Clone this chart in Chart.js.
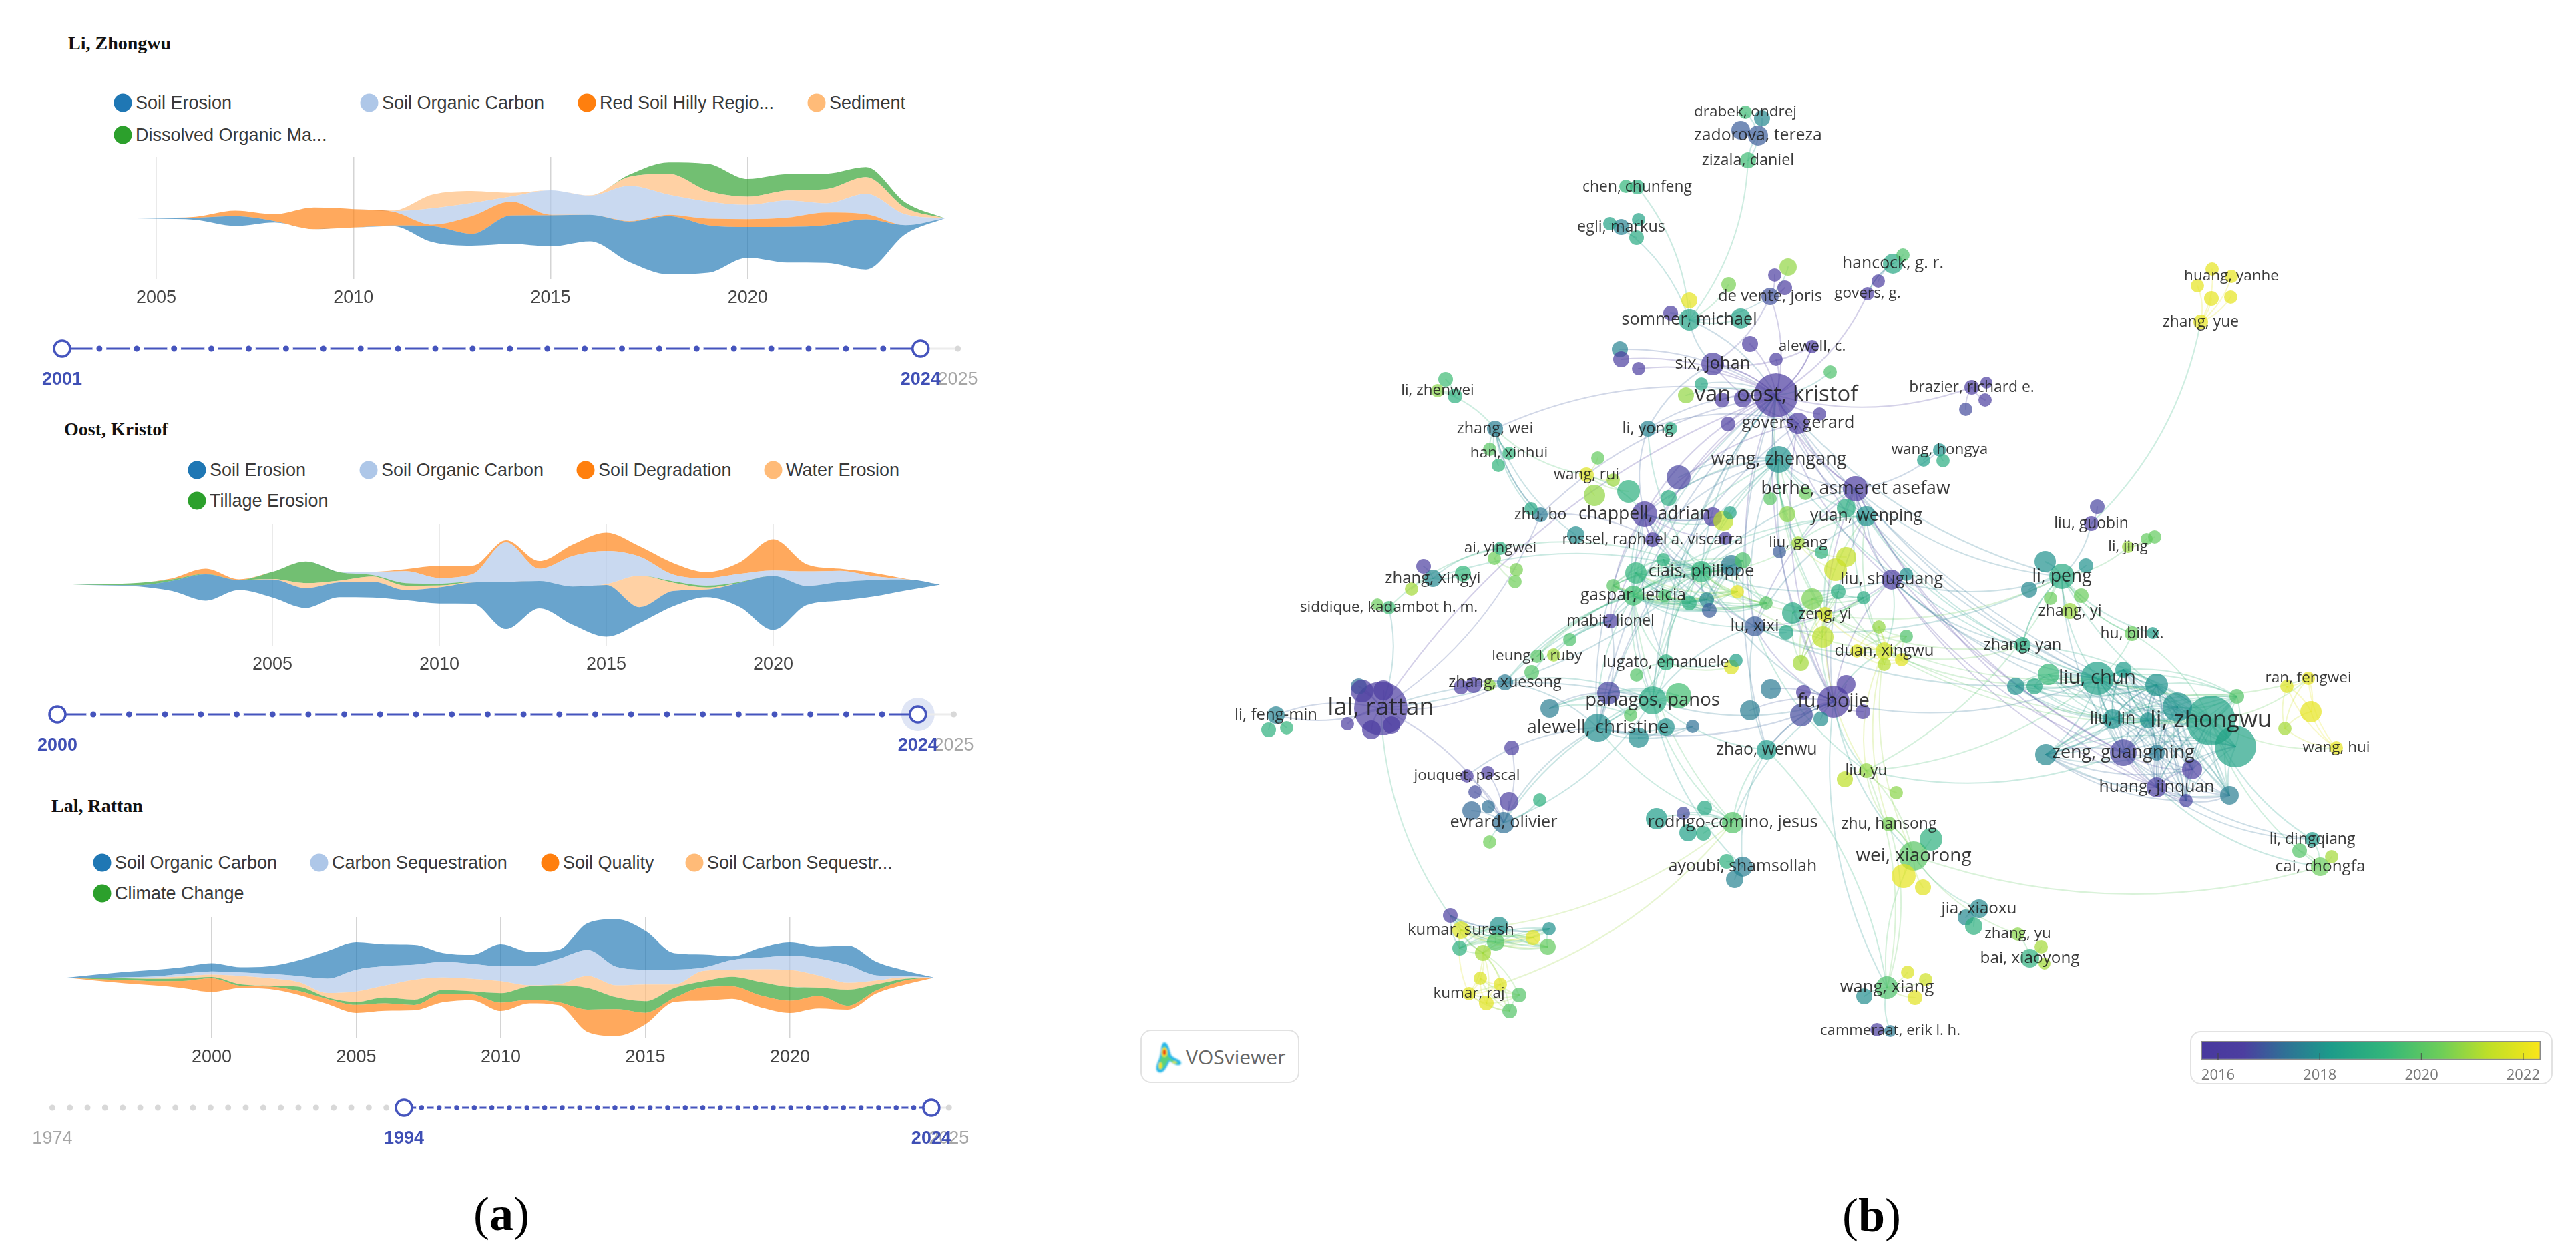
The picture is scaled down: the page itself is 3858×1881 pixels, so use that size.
<!DOCTYPE html>
<html><head><meta charset="utf-8">
<script src="https://cdn.jsdelivr.net/npm/chart.js@4/dist/chart.umd.js"></script>
<style>
html,body{margin:0;padding:0;background:#fff;overflow:hidden}
#root{position:relative;width:3858px;height:1881px;overflow:hidden;background:#fff;filter:blur(0.6px)}
canvas{position:absolute;display:block}
.t{position:absolute;white-space:nowrap;line-height:1}
.auth{font:bold 28px "Liberation Serif",serif;color:#111;transform:translateY(-50%)}
.leg{font:27px "Liberation Sans",sans-serif;color:#3a3a3a;transform:translateY(-50%)}
.dot{position:absolute;width:27px;height:27px;border-radius:50%;transform:translate(-50%,-50%)}
.pl{font:72px "Liberation Serif",serif;color:#000;transform:translate(-50%,-50%)}
.box{position:absolute;border:2px solid #e2e2e2;border-radius:16px;box-sizing:border-box;background:#fff}
</style></head><body><div id="root"></div>
<script>
/* ---------- (a) keyword streams: yearly thickness, bottom band first ---------- */
const streamColors={blue:'#1f77b4',pale:'#aec7e8',orange:'#ff7f0e',peach:'#ffbb78',green:'#2ca02c'};

const liName='Li, Zhongwu';
const liYears=[2004.5,2005,2006,2007,2008,2009,2010,2011,2012,2013,2014,2015,2016,2017,2018,2019,2020,2021,2022,2023,2024,2025];
const liSoilErosion=[0,0.2,0.8,3.7,0.5,0,0,0.2,6.0,4.5,10.8,11.8,10.0,15.3,22.0,18.0,11.6,13.5,14.3,19.0,3.4,0];
const liRedSoil=[0,0.1,0.4,2.1,2.6,8.2,7.0,5.3,0.6,6.7,5.2,0.2,0,0.2,0.5,2.5,3.0,3.5,4.8,2.0,0,0];
const liSoilCarbon=[0,0,0,0,0,0,0,0.2,6.2,5.0,2.0,9.3,7.3,13.4,7.7,6.5,5.4,6.5,3.5,7.7,4.1,0];
const liSediment=[0,0,0,0,0,0,0,0.2,5.2,4.6,1.4,0,0.1,3.4,7.8,4.0,3.1,3.8,5.4,6.3,2.5,0];
const liDissolved=[0,0,0,0,0,0,0,0,0,0,0,0,0,0.8,4.4,10.3,6.7,6.2,5.8,3.8,2.0,0];
const liLegend=['Soil Erosion','Soil Organic Carbon','Red Soil Hilly Regio...','Sediment','Dissolved Organic Ma...'];
const liTicks=[2005,2010,2015,2020];
const liWindow=[2001,2024];

const oostName='Oost, Kristof';
const oostYears=[1999,2000,2001,2002,2003,2004,2005,2006,2007,2008,2009,2010,2011,2012,2013,2014,2015,2016,2017,2018,2019,2020,2021,2022,2023,2024,2025];
const oostSoilErosion=[0,0.1,0.5,4.0,10.3,3.9,7.0,7.7,5.8,6.2,4.0,6.3,8.3,18.5,10.7,15,20.3,6.2,6.0,3.0,9.5,21.2,7.5,7.3,6.5,4.2,0];
const oostWaterErosion=[0,0,0,0,0,0,0.2,2.0,0.7,2.0,1.7,0.7,0.2,0,0,0,0.3,12.3,3.3,0.8,0,0,0,0,0,0,0];
const oostTillage=[0,0.4,0.9,0.6,0.2,0,2.8,8.5,3.3,0.6,1.0,0.7,0.1,0,0,0,0,0,0.5,0.7,0.3,0,0,0,0,0,0];
const oostSoilCarbon=[0,0,0,0,0,0,0,0,0,1.2,4.7,2.3,3.0,15.5,4.8,12,13.0,7.5,2.7,3.0,3.2,2.1,5.7,4.4,1.5,0.1,0];
const oostDegradation=[0,0,0,0.4,2.0,0.3,0,0,0,0,0.8,4.7,3.3,0.8,3.0,4.5,7.2,4.0,4.5,2.3,4.5,12.2,2.8,0.8,1.3,0.1,0];
const oostLegend=['Soil Erosion','Soil Organic Carbon','Soil Degradation','Water Erosion','Tillage Erosion'];
const oostTicks=[2005,2010,2015,2020];
const oostWindow=[2000,2024];

const lalName='Lal, Rattan';
const lalYears=[1995,1996,1997,1998,1999,2000,2001,2002,2003,2004,2005,2006,2007,2008,2009,2010,2011,2012,2013,2014,2015,2016,2017,2018,2019,2020,2021,2022,2023,2024,2025];
const lalSoilQuality=[0,0.5,1.1,1.4,2.4,4.6,0.7,0.8,1.3,1.7,2.7,2.5,1.8,2.8,2.0,2.8,1.2,1.0,7.5,9.0,3.9,1.4,4.5,4.2,4.0,4.1,4.2,1.3,1.0,1.4,0];
const lalClimate=[0,0.3,0.6,0.8,0.8,0.4,0.5,0.3,1.4,0.5,1.0,2.0,1.8,1.3,1.0,3.2,4.5,5.7,7.3,4.0,3.9,3.3,2.0,3.2,4.5,4.6,2.8,5.4,2.0,0.5,0];
const lalSoilCarbonSeq=[0,0,0.1,0.4,0.7,0.8,2.8,2.5,1.6,1.5,3.5,4.0,6.7,4.2,4.2,4.0,0.3,0.3,4.0,4.0,5.6,1.2,3.5,2.4,4.3,5.7,4.0,2.3,1.3,0.5,0];
const lalCarbonSeq=[0,0.1,0.2,0.4,0.9,1.1,1.2,1.5,2.0,4.8,7.3,6.5,5.0,5.2,5.0,5.0,6.4,8.5,8.7,6.2,5.0,5.0,1.1,3.2,3.9,4.8,5.7,6.0,1.7,0.4,0];
const lalSoilCarbon=[0,1.1,1.8,2.2,2.2,2.7,1.7,2.5,5.2,9.2,9.2,7.3,6.7,3.0,3.0,7.4,4.8,3.0,9.0,16,13,5.5,4.4,1.2,3.3,4.5,4.0,6.5,4.5,1.8,0];
const lalLegend=['Soil Organic Carbon','Carbon Sequestration','Soil Quality','Soil Carbon Sequestr...','Climate Change'];
const lalTicks=[2000,2005,2010,2015,2020];
const lalWindow=[1994,2024];

/* ---------- (b) co-authorship map: [x, y, size, mean year, label] ---------- */
const czechGroup=[[2633,203,15,2017,'zadorova, tereza'],[2614,168,10,2019.5,'drabek, ondrej'],[2639,177,12,2017.8],[2607,195,14,2017],[2618,240,12,2019.5,'zizala, daniel']];
const chenGroup=[[2452,280,11,2019,'chen, chunfeng'],[2435,279,10,2019.3]];
const egliGroup=[[2428,340,12,2017.7,'egli, markus'],[2411,335,10,2018.5],[2454,329,10,2018.5],[2451,356,11,2018.8]];
const sommerGroup=[[2530,479,16,2018.5,'sommer, michael'],[2530,450,12,2022],[2502,469,11,2016.3],[2607,477,15,2018.5],[2589,426,11,2020.5]];
const deventeGroup=[[2651,444,13,2016.8,'de vente, joris'],[2678,400,13,2020.8],[2658,412,10,2016.3],[2673,431,11,2016.3]];
const oostGroup=[[2660,592,33,2016.2,'van oost, kristof'],[2714,519,10,2016,'alewell, c.'],[2621,515,12,2016.2],[2660,538,10,2016.3],[2565,545,17,2016.5,'six, johan'],[2741,557,10,2019.8],[2548,575,10,2018.7],[2525,592,12,2020.8],[2579,599,11,2016.2],[2610,597,13,2016],[2725,620,10,2016.3],[2588,635,11,2016.3],[2693,634,16,2016.2,'govers, gerard'],[2426,523,12,2017.7],[2428,538,12,2016.5],[2454,552,10,2016.4]];
const yongGroup=[[2468,642,12,2017.7,'li, yong'],[2502,642,10,2018.8]];
const zhenweiGroup=[[2179,593,11,2019],[2165,568,11,2019.5],[2153,585,10,2020.7,'li, zhenwei']];
const westGroup=[[2239,642,12,2017.6,'zhang, wei'],[2260,679,10,2019.2,'han, xinhui'],[2231,673,10,2020],[2244,697,10,2019.2],[2307,771,11,2017.5,'zhu, bo'],[2293,762,10,2018.7],[2360,801,13,2017.9]];
const ruiGroup=[[2376,711,11,2021.8,'wang, rui'],[2393,686,10,2020.2],[2416,719,10,2020.9],[2388,742,16,2020.8],[2439,736,17,2019]];
const zhengangGroup=[[2664,688,20,2018,'wang, zhengang'],[2514,715,18,2016.6],[2499,746,12,2018.9],[2651,747,10,2020],[2704,739,10,2020.3],[2677,770,12,2020.7]];
const berheGroup=[[2779,732,19,2016.2,'berhe, asmeret asefaw'],[2765,761,14,2018.9],[2795,773,15,2018,'yuan, wenping']];
const chappellGroup=[[2463,770,19,2016.4,'chappell, adrian'],[2565,774,14,2016.4],[2581,780,15,2021.3],[2591,768,10,2018.5],[2475,808,11,2016.3,'rossel, raphael a. viscarra'],[2584,806,10,2016.5]];
const yingweiGroup=[[2238,836,10,2020.4],[2247,821,10,2019,'ai, yingwei'],[2271,853,10,2020.5],[2269,871,10,2020.4]];
const xingyiGroup=[[2146,866,13,2017.8,'zhang, xingyi'],[2132,848,11,2016.5],[2191,859,12,2019.3],[2114,882,10,2021]];
const siddiqueGroup=[[2080,910,10,2019.5,'siddique, kadambot h. m.'],[2063,905,9,2020.3]];
const gangGroup=[[2693,813,10,2021,'liu, gang'],[2665,826,10,2017],[2728,827,10,2019],[2765,834,15,2021.4],[2749,853,17,2021.5]];
const ciaisGroup=[[2548,856,16,2019.2,'ciais, philippe'],[2491,838,10,2019],[2450,858,16,2019.2],[2593,847,16,2017.5],[2610,839,12,2019.8],[2446,892,15,2019.6,'gaspar, leticia'],[2416,877,10,2020],[2493,892,10,2019.7],[2602,886,10,2022],[2556,898,11,2017.8],[2530,903,11,2018.9],[2560,914,11,2017],[2645,903,10,2020]];
const zengYiGroup=[[2733,920,11,2021.8,'zeng, yi'],[2714,897,16,2020.5],[2753,886,11,2018.9],[2791,895,10,2018.8],[2685,918,16,2018.7],[2730,954,16,2021.3],[2697,993,12,2021]];
const xixiGroup=[[2628,938,15,2017,'lu, xixi'],[2675,947,11,2018.5]];
const shuguangGroup=[[2833,868,15,2016.4,'liu, shuguang'],[2855,860,10,2018]];
const xingwuGroup=[[2822,975,13,2021.7,'duan, xingwu'],[2814,939,10,2020.8],[2855,953,10,2019.8],[2781,975,10,2021.9],[2822,995,10,2021.2],[2848,988,10,2021.9]];
const midWestGroup=[[2412,930,11,2016.5,'mabit, lionel'],[2351,958,10,2019.8],[2302,983,10,2020,'leung, l. ruby'],[2327,981,10,2021],[2294,1007,11,2019.9]];
const xuesongGroup=[[2254,1022,12,2017.5,'zhang, xuesong'],[2231,1026,9,2020.8],[2207,1026,12,2016.5],[2188,1029,11,2016.4]];
const lugatoGroup=[[2495,992,12,2019,'lugato, emanuele'],[2451,1011,10,2019.9],[2593,999,11,2021.8],[2600,989,10,2018.4]];
const lalGroup=[[2068,1061,40,2016.2,'lal, rattan'],[2035,1028,12,2017.3],[2040,1035,17,2016.4],[2072,1034,15,2016.2],[2054,1093,14,2016],[2084,1086,13,2016],[2018,1084,10,2016.4]];
const fengminGroup=[[1911,1071,13,2017.7,'li, feng-min'],[1900,1093,11,2019],[1927,1090,10,2019.2]];
const panagosGroup=[[2475,1049,21,2018.8,'panagos, panos'],[2514,1042,19,2019.6],[2409,1038,17,2016.6],[2442,1071,10,2020],[2321,1061,14,2017.6]];
const alewellGroup=[[2393,1090,21,2017.9,'alewell, christine'],[2454,1105,15,2017.9],[2495,1089,13,2018],[2535,1088,10,2017.3]];
const bojieGroup=[[2746,1051,24,2016.2,'fu, bojie'],[2621,1064,15,2017.6],[2652,1032,15,2017.5],[2765,1025,14,2016.2],[2701,1037,11,2016.4],[2698,1071,17,2016.7],[2727,1077,11,2017.9],[2790,1066,11,2016.3],[2646,1123,15,2018.2,'zhao, wenwu']];
const evrardGroup=[[2252,1232,16,2017.3,'evrard, olivier'],[2264,1120,11,2016.5],[2197,1162,10,2016.4,'jouquet, pascal'],[2228,1157,10,2016.4],[2209,1186,10,2016.7],[2260,1200,14,2016.5],[2306,1198,10,2019],[2204,1214,14,2017.2],[2229,1208,10,2017.3],[2231,1261,10,2020.4]];
const rodrigoGroup=[[2595,1232,16,2019.9,'rodrigo-comino, jesus'],[2481,1226,16,2018.3],[2521,1218,10,2016.7],[2553,1210,11,2018.7],[2528,1247,13,2018.4],[2551,1248,11,2018.8]];
const ayoubiGroup=[[2610,1298,15,2017.6,'ayoubi, shamsollah'],[2586,1290,11,2019],[2598,1317,13,2017.7]];
const sureshGroup=[[2188,1393,13,2021.8,'kumar, suresh'],[2172,1371,11,2016.5],[2245,1387,14,2018],[2240,1411,13,2019.9],[2296,1404,11,2021.9],[2320,1391,10,2018],[2318,1418,12,2020.2],[2186,1420,11,2019],[2221,1427,12,2021]];
const rajGroup=[[2200,1488,10,2021.9,'kumar, raj'],[2217,1465,10,2021.8],[2247,1474,10,2021.9],[2226,1502,11,2021.9],[2275,1490,11,2019.9],[2261,1514,11,2019.9],[2221,1427,12,2021]];
const hancockGroup=[[2835,395,15,2018.7,'hancock, g. r.'],[2850,382,10,2019.8],[2813,421,10,2016.3],[2797,440,10,2016.3,'govers, g.']];
const yanheGroup=[[3296,482,11,2022,'zhang, yue'],[3313,403,10,2022],[3342,414,10,2022,'huang, yanhe'],[3291,428,10,2022],[3312,447,11,2022],[3341,445,10,2022]];
const brazierGroup=[[2953,580,11,2016.4,'brazier, richard e.'],[2975,573,9,2016.3],[2973,599,10,2016.5],[2944,613,10,2016.7]];
const hongyaGroup=[[2905,674,10,2018,'wang, hongya'],[2881,689,10,2018.4],[2910,690,10,2018.9]];
const guobinGroup=[[3132,784,11,2016.3,'liu, guobin'],[3141,759,11,2016.6]];
const jingGroup=[[3187,819,9,2020.9,'li, jing'],[3215,807,9,2020.2],[3227,804,10,2020.2]];
const pengGroup=[[3088,863,19,2018.8,'li, peng'],[3063,841,16,2018],[3124,847,11,2018],[3039,883,12,2017.8],[3071,896,10,2020.3],[3117,892,11,2020.3],[3100,915,12,2020.9,'zhang, yi'],[3029,966,12,2018.9,'zhang, yan'],[3193,949,11,2020.3,'hu, bill x.'],[3224,948,9,2018.3]];
const chunGroup=[[3141,1016,25,2018.4,'liu, chun'],[3068,1010,16,2019.4],[3047,1028,12,2018.7],[3019,1028,13,2018],[3180,1003,12,2018.2],[3230,1026,17,2018],[3164,1077,15,2018,'liu, lin'],[3217,1079,12,2018]];
const zhongwuGroup=[[3311,1079,37,2018.5,'li, zhongwu'],[3261,1059,22,2018],[3348,1118,31,2018.5],[3350,1043,11,2019.9],[3180,1127,20,2016.6,'zeng, guangming'],[3064,1130,16,2017.8],[3230,1127,12,2017.5],[3283,1152,15,2016.5],[3230,1179,15,2016.5,'huang, jinquan'],[3274,1199,10,2016.6],[3339,1191,14,2017.6]];
const fengweiGroup=[[3461,1066,16,2022],[3425,1028,10,2021.8],[3457,1016,10,2022,'ran, fengwei'],[3422,1091,10,2021],[3499,1120,10,2022,'wang, hui']];
const chongfaGroup=[[3475,1298,14,2020.3,'cai, chongfa'],[3463,1257,11,2018.2,'li, dingqiang'],[3444,1274,11,2019.9],[3492,1283,10,2021]];
const yuGroup=[[2795,1154,11,2020.8,'liu, yu'],[2763,1167,12,2021.3],[2840,1187,10,2020.7]];
const xiaorongGroup=[[2866,1282,22,2020,'wei, xiaorong'],[2829,1234,11,2020.5,'zhu, hansong'],[2892,1257,17,2019],[2851,1312,18,2022],[2880,1329,12,2021.9]];
const xiaoxuGroup=[[2964,1361,14,2017.8,'jia, xiaoxu'],[2944,1374,12,2017.8],[2956,1387,13,2019]];
const xiaoyongGroup=[[3040,1435,14,2019,'bai, xiaoyong'],[3022,1399,10,2020.7,'zhang, yu'],[3057,1418,10,2021],[3062,1443,9,2021]];
const xiangGroup=[[2826,1479,17,2019.8,'wang, xiang'],[2792,1492,12,2017.9],[2857,1456,10,2021.8],[2884,1467,10,2021.6],[2868,1494,11,2021.9]];
const cammeraatGroup=[[2831,1544,9,2017.5,'cammeraat, erik l. h.'],[2811,1542,10,2016.5]];

const mapGroups=[czechGroup,chenGroup,egliGroup,sommerGroup,deventeGroup,oostGroup,yongGroup,zhenweiGroup,westGroup,ruiGroup,zhengangGroup,berheGroup,chappellGroup,yingweiGroup,xingyiGroup,siddiqueGroup,gangGroup,ciaisGroup,zengYiGroup,xixiGroup,shuguangGroup,xingwuGroup,midWestGroup,xuesongGroup,lugatoGroup,lalGroup,fengminGroup,panagosGroup,alewellGroup,bojieGroup,evrardGroup,rodrigoGroup,ayoubiGroup,sureshGroup,rajGroup,hancockGroup,yanheGroup,brazierGroup,hongyaGroup,guobinGroup,jingGroup,pengGroup,chunGroup,zhongwuGroup,fengweiGroup,chongfaGroup,yuGroup,xiaorongGroup,xiaoxuGroup,xiaoyongGroup,xiangGroup,cammeraatGroup];

/* teams that co-author as a block, so every pair in them is linked */
const zhongwuTeam=[...zhongwuGroup,chunGroup[0],chunGroup[4],chunGroup[5],chunGroup[6],chunGroup[7]];
const wholeTeams=[zhongwuTeam,chunGroup,ciaisGroup,zengYiGroup,xingwuGroup,panagosGroup,alewellGroup,sureshGroup,rajGroup,fengweiGroup];

const coauthorLinks={
 'van oost, kristof':['govers, gerard','wang, zhengang','berhe, asmeret asefaw','chappell, adrian','sommer, michael','de vente, joris','li, yong','lal, rattan','fu, bojie','panagos, panos','alewell, christine','ciais, philippe','lu, xixi','liu, shuguang','yuan, wenping','rossel, raphael a. viscarra','govers, g.','lugato, emanuele','mabit, lionel','liu, gang','li, peng','brazier, richard e.','gaspar, leticia','zeng, yi','alewell, c.','zhang, wei','zhu, bo','zhao, wenwu','liu, chun','zeng, guangming','li, zhongwu','six, johan'],
 'wang, zhengang':['chappell, adrian','ciais, philippe','gaspar, leticia','lu, xixi','zeng, yi','liu, gang','yuan, wenping','panagos, panos','alewell, christine','fu, bojie','duan, xingwu','liu, chun','rossel, raphael a. viscarra','govers, gerard','berhe, asmeret asefaw'],
 'berhe, asmeret asefaw':['yuan, wenping','liu, shuguang','liu, gang','zeng, yi','li, zhongwu','li, peng','duan, xingwu','fu, bojie','ciais, philippe','huang, jinquan','zeng, guangming','wang, hongya','lu, xixi'],
 'yuan, wenping':['liu, shuguang','ciais, philippe','liu, gang','zeng, yi','duan, xingwu','lu, xixi','gaspar, leticia','fu, bojie','zhang, yan','liu, chun'],
 'chappell, adrian':['rossel, raphael a. viscarra','ciais, philippe','gaspar, leticia','panagos, panos','alewell, christine','lu, xixi','wang, rui','zeng, yi','mabit, lionel','lugato, emanuele'],
 'ciais, philippe':['lu, xixi','zeng, yi','liu, gang','panagos, panos','lugato, emanuele','duan, xingwu','mabit, lionel','fu, bojie','leung, l. ruby','zhang, xuesong','liu, shuguang','zhang, xingyi','ai, yingwei'],
 'gaspar, leticia':['mabit, lionel','panagos, panos','alewell, christine','lugato, emanuele','lu, xixi','leung, l. ruby','zhang, xuesong','rodrigo-comino, jesus'],
 'lu, xixi':['zeng, yi','duan, xingwu','fu, bojie','zhao, wenwu','liu, yu','liu, shuguang','liu, chun','li, peng','panagos, panos'],
 'zeng, yi':['duan, xingwu','liu, shuguang','fu, bojie','liu, chun','li, zhongwu','zhang, yan','li, peng','liu, yu'],
 'duan, xingwu':['liu, shuguang','fu, bojie','liu, chun','li, zhongwu','liu, yu','zhu, hansong','wei, xiaorong','zhang, yan'],
 'liu, shuguang':['fu, bojie','li, zhongwu','liu, chun','li, peng','zeng, guangming','huang, jinquan','zhang, yan'],
 'panagos, panos':['alewell, christine','lugato, emanuele','fu, bojie','rodrigo-comino, jesus','evrard, olivier','zhang, xuesong','lal, rattan','zhao, wenwu','ayoubi, shamsollah'],
 'alewell, christine':['lugato, emanuele','fu, bojie','evrard, olivier','mabit, lionel','jouquet, pascal','rodrigo-comino, jesus','zhang, xuesong'],
 'fu, bojie':['zhao, wenwu','liu, yu','wei, xiaorong','wang, xiang','liu, chun','rodrigo-comino, jesus'],
 'lal, rattan':['zhang, xuesong','li, feng-min','siddique, kadambot h. m.','kumar, suresh','ciais, philippe','zhu, bo'],
 'li, feng-min':['lal, rattan'],
 'kumar, suresh':['kumar, raj','rodrigo-comino, jesus'],
 'kumar, raj':['rodrigo-comino, jesus'],
 'wei, xiaorong':['wang, xiang','jia, xiaoxu','zhang, yu','zhu, hansong','liu, yu','cai, chongfa'],
 'wang, xiang':['cammeraat, erik l. h.','zhu, hansong','liu, yu','zhao, wenwu'],
 'liu, yu':['zhu, hansong','li, peng','liu, chun','zeng, guangming'],
 'li, peng':['liu, guobin','li, jing','zhang, yan','liu, chun','li, zhongwu','zeng, guangming','hu, bill x.'],
 'liu, guobin':['zhang, yue'],
 'liu, chun':['li, zhongwu','zeng, guangming','huang, jinquan','hu, bill x.','ran, fengwei'],
 'li, zhongwu':['ran, fengwei','wang, hui','cai, chongfa','li, dingqiang','hu, bill x.','zhang, yan'],
 'zeng, guangming':['li, dingqiang','zhang, yan'],
 'huang, jinquan':['li, dingqiang','cai, chongfa'],
 'sommer, michael':['egli, markus','chen, chunfeng','six, johan','de vente, joris','zizala, daniel'],
 'six, johan':['de vente, joris','alewell, c.','li, yong','govers, gerard'],
 'govers, gerard':['chappell, adrian','li, yong','fu, bojie','berhe, asmeret asefaw','alewell, christine'],
 'li, yong':['ciais, philippe','chappell, adrian'],
 'zhang, wei':['li, zhenwei','han, xinhui','wang, rui','zhu, bo'],
 'rossel, raphael a. viscarra':['gaspar, leticia','ciais, philippe','zhu, bo'],
 'ai, yingwei':['zhang, xingyi','siddique, kadambot h. m.'],
 'evrard, olivier':['panagos, panos','lal, rattan'],
 'hancock, g. r.':['govers, g.'],
 'zhao, wenwu':['rodrigo-comino, jesus','ayoubi, shamsollah'],
 'zizala, daniel':['zadorova, tereza']
};

const colorbarRange=[2015.67,2022.34];
const colorbarTicks=[2016,2018,2020,2022];
const colorbarStops=[[2015.67,[72,56,158]],[2016.5,[76,62,160]],[2017.3,[47,112,150]],[2018.2,[28,155,138]],[2019.3,[50,182,122]],[2020.4,[110,206,88]],[2021.3,[190,223,40]],[2022.34,[250,230,25]]];

/* ---------- layout helpers ---------- */
const root=document.getElementById('root');
function el(tag,cls,css,txt){const e=document.createElement(tag);if(cls)e.className=cls;Object.assign(e.style,css||{});if(txt!=null)e.textContent=txt;root.appendChild(e);return e;}
function cv(l,t,w,h){const c=el('canvas','',{left:l+'px',top:t+'px'});c.width=w;c.height=h;c.style.width=w+'px';c.style.height=h+'px';return c;}
function rgba(h,a){const n=parseInt(h.slice(1),16);return `rgba(${n>>16},${(n>>8)&255},${n&255},${a})`;}
const baseOpts={responsive:false,animation:false,devicePixelRatio:1,events:[],layout:{padding:0,autoPadding:false},plugins:{legend:{display:false},tooltip:{enabled:false},title:{display:false}}};

function stream(cfg){
  const W=1500, tickH=60;
  const H=cfg.gridBottom-cfg.gridTop+tickH;
  const c=cv(0,cfg.gridTop,W,H);
  const total=cfg.years.map((_,i)=>cfg.bands.reduce((s,b)=>s+b.values[i],0));
  let run=total.map(v=>-v/2);
  const ds=[{data:cfg.years.map((x,i)=>({x,y:run[i]})),pointRadius:0,borderWidth:0,fill:false,cubicInterpolationMode:'monotone'}];
  cfg.bands.forEach(b=>{
    run=run.map((v,i)=>v+b.values[i]);
    ds.push({data:cfg.years.map((x,i)=>({x,y:run[i]})),pointRadius:0,borderWidth:0,fill:'-1',backgroundColor:rgba(b.color,0.67),cubicInterpolationMode:'monotone'});
  });
  const gridH=cfg.gridBottom-cfg.gridTop;
  const cy=cfg.center-cfg.gridTop;
  new Chart(c,{type:'line',data:{datasets:ds},options:{...baseOpts,
    scales:{
      x:{type:'linear',min:cfg.anchorYear-cfg.anchorPx/cfg.pxPerYear,max:cfg.anchorYear+(W-cfg.anchorPx)/cfg.pxPerYear,
         afterBuildTicks:s=>{s.ticks=cfg.ticks.map(value=>({value}));},
         afterFit:s=>{s.height=tickH;},
         grid:{color:'rgba(0,0,0,0.17)',lineWidth:1.5,drawTicks:false},border:{display:false},
         ticks:{autoSkip:false,maxRotation:0,padding:12,color:'#444',font:{family:'"Liberation Sans"',size:27},callback:v=>String(v)}},
      y:{display:false,min:-(gridH-cy)*cfg.unitsPerPx,max:cy*cfg.unitsPerPx}
    }}});
}
function timeline(cfg){
  const W=1500,H=90,top=cfg.y-30;
  const c=cv(0,top,W,H);
  const blue='#4554bd';
  const selected=[];for(let y=cfg.window[0];y<=cfg.window[1];y++)selected.push({x:y,y:0});
  const ds=[];
  ds.push({data:cfg.ends.map(x=>({x,y:0})),showLine:false,pointRadius:12,pointBackgroundColor:'#fff',pointBorderColor:blue,pointBorderWidth:3.5,order:1});
  ds.push({data:selected,borderColor:blue,borderWidth:3,pointRadius:cfg.dotR,pointBackgroundColor:blue,pointBorderColor:'#fff',pointBorderWidth:cfg.dotB,order:2});
  ds.push({data:[{x:cfg.window[1],y:0},{x:2025,y:0}],borderColor:'#ececec',borderWidth:3,pointRadius:0,order:4});
  ds.push({data:cfg.greyYears.map(x=>({x,y:0})),showLine:false,pointRadius:4.5,pointBackgroundColor:'#d8d8d8',pointBorderWidth:0,order:3});
  if(cfg.halo)ds.push({data:[{x:cfg.halo,y:0}],showLine:false,pointRadius:25,pointBackgroundColor:'#dfe5f5',pointBorderWidth:0,order:5});
  new Chart(c,{type:'line',data:{datasets:ds},options:{...baseOpts,clip:false,
    scales:{
      x:{type:'linear',min:cfg.anchorYear-cfg.anchorPx/cfg.pxPerYear,max:cfg.anchorYear+(W-cfg.anchorPx)/cfg.pxPerYear,
        afterBuildTicks:s=>{s.ticks=cfg.labels.map(value=>({value}));},
        afterFit:s=>{s.height=H-60;},
        grid:{display:false,drawTicks:false},border:{display:false},
        ticks:{autoSkip:false,maxRotation:0,padding:0,callback:v=>String(v),
          color:k=>(k.tick&&cfg.window.includes(k.tick.value))?'#3f4fb5':'#a6a6a6',
          font:k=>({family:'"Liberation Sans"',size:27,weight:(k.tick&&cfg.window.includes(k.tick.value))?'bold':'normal'})}},
      y:{display:false,min:-1,max:1}
    }}});
}
function legend(names,colors,cols,y1,y2){
  names.forEach((n,i)=>{
    const x=i<4?cols[i]:cols[0],y=i<4?y1:y2;
    el('div','dot',{left:x+'px',top:y+'px',background:colors[i]});
    el('div','t leg',{left:(x+19)+'px',top:y+'px'},n);
  });
}
const range=(a,b)=>{const r=[];for(let i=a;i<=b;i++)r.push(i);return r;};

/* ---------- panel (a) ---------- */
el('div','t auth',{left:'102px',top:'65px'},liName);
legend(liLegend,[streamColors.blue,streamColors.pale,streamColors.orange,streamColors.peach,streamColors.green],[184,553,879,1223],154,202);
stream({years:liYears,gridTop:235,gridBottom:418,center:327,unitsPerPx:0.253,anchorYear:2005,anchorPx:234,pxPerYear:59.05,ticks:liTicks,
  bands:[{values:liSoilErosion,color:streamColors.blue},{values:liRedSoil,color:streamColors.orange},{values:liSoilCarbon,color:streamColors.pale},{values:liSediment,color:streamColors.peach},{values:liDissolved,color:streamColors.green}]});
timeline({y:522,dotR:7.5,dotB:6,window:liWindow,ends:liWindow,greyYears:[2025],labels:[2025,...liWindow],anchorYear:2001,anchorPx:93,pxPerYear:55.9});

el('div','t auth',{left:'96px',top:'643px'},oostName);
legend(oostLegend,[streamColors.blue,streamColors.pale,streamColors.orange,streamColors.peach,streamColors.green],[295,552,877,1158],704,750);
stream({years:oostYears,gridTop:784,gridBottom:967,center:875.5,unitsPerPx:0.2613,anchorYear:2005,anchorPx:408,pxPerYear:50,ticks:oostTicks,
  bands:[{values:oostSoilErosion,color:streamColors.blue},{values:oostWaterErosion,color:streamColors.peach},{values:oostTillage,color:streamColors.green},{values:oostSoilCarbon,color:streamColors.pale},{values:oostDegradation,color:streamColors.orange}]});
timeline({y:1070,dotR:7.5,dotB:6,window:oostWindow,ends:oostWindow,greyYears:[2025],labels:[2025,...oostWindow],halo:2024,anchorYear:2000,anchorPx:86,pxPerYear:53.7});

el('div','t auth',{left:'77px',top:'1207px'},lalName);
legend(lalLegend,[streamColors.blue,streamColors.pale,streamColors.orange,streamColors.peach,streamColors.green],[153,478,824,1040],1292,1338);
stream({years:lalYears,gridTop:1373,gridBottom:1555,center:1464,unitsPerPx:0.224,anchorYear:2000,anchorPx:317,pxPerYear:43.3,ticks:lalTicks,
  bands:[{values:lalSoilQuality,color:streamColors.orange},{values:lalClimate,color:streamColors.green},{values:lalSoilCarbonSeq,color:streamColors.peach},{values:lalCarbonSeq,color:streamColors.pale},{values:lalSoilCarbon,color:streamColors.blue}]});
timeline({y:1659,dotR:6,dotB:4.5,window:lalWindow,ends:lalWindow,greyYears:[...range(1974,1993),2025],labels:[1974,2025,...lalWindow],anchorYear:1994,anchorPx:605,pxPerYear:26.33});

const pa=el('div','t pl',{left:'751px',top:'1818px'});pa.innerHTML='(<b>a</b>)';
const pb=el('div','t pl',{left:'2803px',top:'1820px'});pb.innerHTML='(<b>b</b>)';

/* ---------- panel (b) ---------- */
function yearRGB(y){
  const s=colorbarStops;if(y<=s[0][0])return s[0][1];
  for(let i=1;i<s.length;i++){if(y<=s[i][0]){const t=(y-s[i-1][0])/(s[i][0]-s[i-1][0]);return s[i-1][1].map((v,k)=>Math.round(v+(s[i][1][k]-v)*t));}}
  return s[s.length-1][1];
}
const nodes=[];const seen=new Set();
mapGroups.forEach(g=>g.forEach(n=>{const k=n[0]+','+n[1];if(!seen.has(k)){seen.add(k);nodes.push(n);}}));
const byLabel={};nodes.forEach(n=>{if(n[4])byLabel[n[4]]=n;});
const edges=[];
mapGroups.forEach(g=>{for(let i=1;i<g.length;i++)edges.push([g[0],g[i]]);});
wholeTeams.forEach(g=>{for(let i=1;i<g.length;i++)for(let j=i+1;j<g.length;j++)edges.push([g[i],g[j]]);});
Object.keys(coauthorLinks).forEach(a=>coauthorLinks[a].forEach(b=>{if(byLabel[a]&&byLabel[b])edges.push([byLabel[a],byLabel[b]]);}));

const mapLeft=1700,mapTop=130,mapW=1900,mapH=1480;
const linkPlugin={id:'links',beforeDatasetsDraw(ch){
  const {ctx,scales:{x,y}}=ch;ctx.save();ctx.lineWidth=2;ctx.lineCap='round';
  edges.forEach(([a,b])=>{
    const x1=x.getPixelForValue(a[0]),y1=y.getPixelForValue(a[1]),x2=x.getPixelForValue(b[0]),y2=y.getPixelForValue(b[1]);
    const dx=x2-x1,dy=y2-y1;const c=yearRGB((a[3]+b[3])/2);
    ctx.strokeStyle=`rgba(${c[0]},${c[1]},${c[2]},0.24)`;
    ctx.beginPath();ctx.moveTo(x1,y1);ctx.quadraticCurveTo((x1+x2)/2-dy*0.16,(y1+y2)/2+dx*0.16,x2,y2);ctx.stroke();
  });ctx.restore();}};
const labelPlugin={id:'nodeLabels',afterDatasetsDraw(ch){
  const {ctx,scales:{x,y}}=ch;ctx.save();ctx.textAlign='center';ctx.textBaseline='middle';ctx.fillStyle='rgba(30,30,30,0.88)';
  nodes.forEach(n=>{if(!n[4])return;ctx.font=(18+0.45*n[2]).toFixed(1)+'px "Open Sans"';ctx.fillText(n[4],x.getPixelForValue(n[0]),y.getPixelForValue(n[1]));});
  ctx.restore();}};
new Chart(cv(mapLeft,mapTop,mapW,mapH),{type:'bubble',
  data:{datasets:[{data:nodes.map(n=>({x:n[0],y:n[1],r:n[2]})),
    backgroundColor:nodes.map(n=>{const c=yearRGB(n[3]);return `rgba(${c[0]},${c[1]},${c[2]},0.7)`;}),borderWidth:0,clip:false}]},
  options:{...baseOpts,scales:{x:{display:false,min:mapLeft,max:mapLeft+mapW},y:{display:false,reverse:true,min:mapTop,max:mapTop+mapH}}},
  plugins:[linkPlugin,labelPlugin]});

/* VOSviewer badge */
el('div','box',{left:'1708px',top:'1542px',width:'238px',height:'80px'});
const svgWrap=el('div','',{position:'absolute',left:'1724px',top:'1556px',width:'50px',height:'56px'});
svgWrap.innerHTML='<svg width="50" height="56" viewBox="0 0 50 56"><defs><filter id="b"><feGaussianBlur stdDeviation="0.8"/></filter></defs><g filter="url(#b)"><path d="M19 5 C25 4 27 14 30 24 C34 30 46 30 45 37 C42 42 34 38 28 33 C24 40 20 52 12 50 C5 48 8 38 12 30 C15 22 14 8 19 5Z" fill="#25b7ea"/><path d="M19 11 C23 10 25 18 26 26 C31 33 40 33 41 37 C37 39 31 34 26 31 C23 38 18 47 13 46 C9 44 13 34 15 28 C17 22 16 13 19 11Z" fill="#5ad27c"/><ellipse cx="20" cy="20" rx="4.5" ry="7" fill="#f2e227"/><ellipse cx="14" cy="40" rx="2.6" ry="5" fill="#f2e227"/><ellipse cx="35" cy="35" rx="3.2" ry="1.8" fill="#d8e44a"/><ellipse cx="20" cy="20" rx="2.4" ry="4.2" fill="#e8391c"/></g></svg>';
el('div','t',{left:'1776px',top:'1582px',font:'30px "Open Sans"',color:'#666',transform:'translateY(-50%)'},'VOSviewer');

/* colour bar */
el('div','box',{left:'3280px',top:'1544px',width:'543px',height:'80px'});
const barPx=76.2,barLeft=3285,barW=530,barH=28;
const barTickPlugin={id:'barTicks',afterDatasetsDraw(ch){const {ctx,chartArea:a,scales:{x}}=ch;ctx.save();ctx.strokeStyle='rgba(70,70,70,0.75)';ctx.lineWidth=1.5;
  colorbarTicks.forEach(v=>{const p=x.getPixelForValue(v);ctx.beginPath();ctx.moveTo(p,a.bottom);ctx.lineTo(p,a.bottom-10);ctx.stroke();});ctx.restore();}};
new Chart(cv(barLeft,1559,barW,barH+40),{type:'bar',
  data:{labels:['Average publication year'],datasets:[{data:[colorbarRange],barPercentage:1,categoryPercentage:1,borderWidth:1.5,borderColor:'#8a8a8a',borderSkipped:false,
    backgroundColor:k=>{const ch=k.chart,a=ch.chartArea;if(!a)return '#888';const x=ch.scales.x;const g=ch.ctx.createLinearGradient(x.getPixelForValue(colorbarRange[0]),0,x.getPixelForValue(colorbarRange[1]),0);
      colorbarStops.forEach(s=>g.addColorStop((s[0]-colorbarRange[0])/(colorbarRange[1]-colorbarRange[0]),`rgb(${s[1].join(',')})`));return g;}}]},
  options:{...baseOpts,indexAxis:'y',
    scales:{
      x:{type:'linear',min:2016-(3322-barLeft)/barPx,max:2016+(barLeft+barW-3322)/barPx,
        afterBuildTicks:s=>{s.ticks=colorbarTicks.map(value=>({value}));},afterFit:s=>{s.height=40;},
        grid:{display:false,drawTicks:false},border:{display:false},
        ticks:{autoSkip:false,maxRotation:0,padding:11,color:'#777',font:{family:'"Open Sans"',size:22},callback:v=>String(v)}},
      y:{display:false}}},
  plugins:[barTickPlugin]});
</script></body></html>
